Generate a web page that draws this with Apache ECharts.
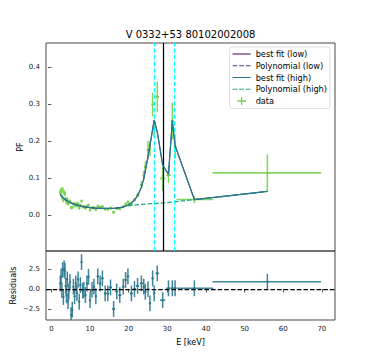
<!DOCTYPE html>
<html>
<head>
<meta charset="utf-8">
<script src="https://cdn.jsdelivr.net/npm/echarts@6/dist/echarts.min.js"></script>
<style>
  html, body { margin: 0; padding: 0; background: #fff; }
  #chart { width: 372px; height: 360px; }
</style>
</head>
<body>
<div id="chart"></div>
<script>
// ---- data ----
const energy = [2.3,2.5,2.7,2.9,3.1,3.3,3.5,3.7,3.9,4.1,4.3,4.5,
  4.8,5.1,5.4,5.7,6.0,6.3,6.6,6.9,7.2,7.5,7.8,8.1,8.4,
  8.8,9.2,9.6,10.0,10.5,11.0,11.5,12.0,
  12.6,13.2,13.9,14.6,15.3,16.1,16.9,17.7,18.6,19.2,19.8,20.7,21.5,22.3,
  23.3,23.9,24.3,25.0,25.5,26.2,26.6,27.4,28.8,30.3,31.3,32.0,37.0,55.9];
const energyErrLo = [0.1,0.1,0.1,0.1,0.1,0.1,0.1,0.1,0.1,0.1,0.1,0.1,
  0.15,0.15,0.15,0.15,0.15,0.15,0.15,0.15,0.15,0.15,0.15,0.15,0.15,
  0.2,0.2,0.2,0.25,0.25,0.25,0.25,0.25,
  0.3,0.3,0.35,0.35,0.4,0.4,0.4,0.4,0.3,0.3,0.35,0.4,0.4,0.45,
  0.4,0.25,0.3,0.3,0.25,0.25,0.25,0.45,0.7,0.6,0.4,0.35,4.6,14.2];
const energyErrHi = [0.1,0.1,0.1,0.1,0.1,0.1,0.1,0.1,0.1,0.1,0.1,0.1,
  0.15,0.15,0.15,0.15,0.15,0.15,0.15,0.15,0.15,0.15,0.15,0.15,0.15,
  0.2,0.2,0.2,0.25,0.25,0.25,0.25,0.25,
  0.3,0.3,0.35,0.35,0.4,0.4,0.4,0.4,0.3,0.3,0.35,0.4,0.4,0.45,
  0.4,0.25,0.3,0.3,0.25,0.25,0.25,0.45,0.7,0.6,0.4,0.35,4.9,13.9];
const pf = [0.061,0.066,0.050,0.068,0.041,0.061,0.057,0.043,0.035,0.043,0.031,0.035,
  0.038,0.020,0.021,0.031,0.025,0.031,0.025,0.031,0.019,0.027,0.038,0.022,0.023,
  0.019,0.024,0.027,0.014,0.020,0.020,0.015,0.024,
  0.021,0.023,0.016,0.016,0.019,0.008,0.018,0.017,0.023,0.029,0.035,0.030,0.041,0.054,
  0.082,0.108,0.129,0.176,0.180,0.299,0.232,0.320,0.099,0.108,0.254,0.185,0.042,0.114];
const pfErr = [0.008,0.008,0.008,0.008,0.006,0.006,0.006,0.006,0.006,0.005,0.005,0.005,
  0.004,0.004,0.004,0.004,0.004,0.004,0.004,0.004,0.004,0.004,0.004,0.004,0.004,
  0.004,0.004,0.004,0.004,0.004,0.004,0.004,0.004,
  0.004,0.004,0.004,0.004,0.004,0.004,0.004,0.004,0.004,0.005,0.005,0.005,0.005,0.006,
  0.010,0.012,0.016,0.025,0.020,0.032,0.020,0.041,0.034,0.022,0.050,0.032,0.009,0.050];
const bestFit = [0.055,0.053,0.051,0.049,0.047,0.045,0.043,0.041,0.040,0.038,0.037,0.036,
  0.034,0.033,0.031,0.030,0.029,0.028,0.027,0.026,0.025,0.025,0.024,0.023,0.023,
  0.022,0.021,0.021,0.020,0.020,0.019,0.019,0.018,
  0.018,0.018,0.018,0.018,0.018,0.018,0.019,0.020,0.022,0.024,0.027,0.033,0.041,0.052,
  0.075,0.098,0.120,0.158,0.188,0.232,0.257,0.225,0.135,0.110,0.255,0.188,0.042,0.064];
const residuals = [0.7,1.6,-0.1,2.4,-1.0,2.6,2.3,0.4,-0.8,1.2,-1.5,-0.3,
  0.9,-3.3,-2.6,0.3,-0.9,0.7,-0.5,1.2,-1.6,0.5,3.4,-0.2,-0.1,
  -0.75,0.7,1.55,-1.4,-0.1,0.3,-0.9,1.6,
  0.7,1.35,-0.55,-0.55,0.2,-2.5,-0.3,-0.76,0.3,1.15,1.6,-0.55,0.0,0.4,
  0.72,0.3,-0.33,0.0,-1.8,1.35,-0.55,1.98,-1.4,0.1,0.1,0.1,0.1,0.92];
const residualSigma = 1;
const polyLowEnergy = [2.3,3.3,4.5,6.0,8.1,10.5,13.2,16.1,18.6];
const polyLow = [0.055,0.045,0.036,0.029,0.023,0.020,0.018,0.018,0.022];
const polyHighEnergy = [19.8,22.3,25.0,28.0,32.0,37.0,45.0,55.9];
const polyHigh = [0.025,0.028,0.030,0.032,0.036,0.042,0.051,0.064];
const lineEnergies = [26.7, 31.7];
const centroidEnergy = 29.0;
const xTicks = [0,10,20,30,40,50,60,70];
const pfTicks = [0,0.1,0.2,0.3,0.4];
const residTicks = [-2.5,0,2.5];
const titleText = 'V 0332+53 80102002008';

// ---- build ----
const FONT = 'DejaVu Sans';
const C = { low:'#440154', polyLow:'#414487', high:'#2a788e', polyHigh:'#22a884', data:'#7ad151' };

const pairs = (xs, ys) => xs.map((x, i) => [x, ys[i]]);
const dataRows = energy.map((e, i) => [e, pf[i], e - energyErrLo[i], e + energyErrHi[i], pf[i] - pfErr[i], pf[i] + pfErr[i]]);
const residRows = energy.map((e, i) => [e, residuals[i], e - energyErrLo[i], e + energyErrHi[i], residuals[i] - residualSigma, residuals[i] + residualSigma]);

function errRender(color, lw, r, op) {
  return function (params, api) {
    const x = api.value(0), y = api.value(1);
    const p = api.coord([x, y]);
    const a = api.coord([api.value(2), y]), b = api.coord([api.value(3), y]);
    const c = api.coord([x, api.value(4)]), d = api.coord([x, api.value(5)]);
    return { type: 'group', children: [
      { type: 'line', shape: { x1: a[0], y1: p[1], x2: b[0], y2: p[1] }, style: { stroke: color, lineWidth: lw, opacity: op } },
      { type: 'line', shape: { x1: p[0], y1: c[1], x2: p[0], y2: d[1] }, style: { stroke: color, lineWidth: lw, opacity: op } },
      { type: 'circle', shape: { cx: p[0], cy: p[1], r: r }, style: { fill: color, opacity: op } }
    ]};
  };
}

const axisTxt = { fontFamily: FONT, fontSize: 7, color: '#222' };
// legend icons (18 x 8 boxes; tiny corner specks keep the full box extent)
const corners = 'M0,0 H0.01 V0.01 H0 Z M17.99,7.99 H18 V8 H17.99 Z ';
const solidIcon = 'path://' + corners + 'M0,3.4 H18 V4.6 H0 Z';
const dashIcon = 'path://' + corners + 'M0,3.4 H4.6 V4.6 H0 Z M6.6,3.4 H11.2 V4.6 H6.6 Z M13.2,3.4 H17.8 V4.6 H13.2 Z';
const plusIcon = 'path://' + corners + 'M8.35,0 H9.65 V8 H8.35 Z M4.6,3.35 H13.4 V4.65 H4.6 Z';

const option = {
  animation: false,
  backgroundColor: '#fff',
  title: { text: titleText, left: 190.5, textAlign: 'center', top: 29, padding: 0,
    textStyle: { fontFamily: FONT, fontSize: 10, fontWeight: 'normal', color: '#000' } },
  legend: {
    orient: 'vertical', right: 42, top: 47,
    data: [{ name: 'best fit (low)', icon: solidIcon }, { name: 'Polynomial (low)', icon: dashIcon },
           { name: 'best fit (high)', icon: solidIcon }, { name: 'Polynomial (high)', icon: dashIcon },
           { name: 'data', icon: plusIcon }],
    itemWidth: 18, itemHeight: 8, itemGap: 1.75,
    textStyle: { fontFamily: FONT, fontSize: 8.2, color: '#000', lineHeight: 10 },
    padding: [2, 3, 2.4, 3],
    borderColor: '#d5d5d5', borderWidth: 0.8, borderRadius: 2.5,
    backgroundColor: 'rgba(255,255,255,0.8)',
    selectedMode: false
  },
  grid: [
    { left: 46, top: 43, width: 289, height: 208, show: true, borderColor: '#333', borderWidth: 0.9, backgroundColor: 'transparent' },
    { left: 46, top: 251, width: 289, height: 69, show: true, borderColor: '#333', borderWidth: 0.9, backgroundColor: 'transparent' }
  ],
  xAxis: [
    { type: 'value', gridIndex: 0, min: -1.4, max: 73.4, axisLine: { show: false }, axisTick: { show: false },
      axisLabel: { show: false }, splitLine: { show: false } },
    { type: 'value', gridIndex: 1, min: -1.4, max: 73.4, axisLine: { show: false },
      axisTick: { show: true, length: 3.5, customValues: xTicks, lineStyle: { color: '#333', width: 0.8 } },
      axisLabel: { customValues: xTicks, margin: 5, ...axisTxt },
      splitLine: { show: false },
      name: 'E [keV]', nameLocation: 'middle', nameGap: 18, nameMoveOverlap: false,
      nameTextStyle: { fontFamily: FONT, fontSize: 8, color: '#000' } }
  ],
  yAxis: [
    { type: 'value', gridIndex: 0, min: -0.097, max: 0.465, axisLine: { show: false },
      axisTick: { show: true, length: 3.5, customValues: pfTicks, lineStyle: { color: '#333', width: 0.8 } },
      axisLabel: { customValues: pfTicks, margin: 6, formatter: v => v.toFixed(1), ...axisTxt },
      splitLine: { show: false },
      name: 'PF', nameLocation: 'middle', nameGap: 22, nameMoveOverlap: false,
      nameTextStyle: { fontFamily: FONT, fontSize: 8, color: '#000' } },
    { type: 'value', gridIndex: 1, min: -3.9, max: 4.8, axisLine: { show: false },
      axisTick: { show: true, length: 3.5, customValues: residTicks, lineStyle: { color: '#333', width: 0.8 } },
      axisLabel: { customValues: residTicks, margin: 6, ...axisTxt,
        formatter: v => (v < 0 ? '\u2212' + Math.abs(v).toFixed(1) : v.toFixed(1)) },
      splitLine: { show: false },
      name: 'Residuals', nameLocation: 'middle', nameGap: 28.5, nameMoveOverlap: false,
      nameTextStyle: { fontFamily: FONT, fontSize: 8, color: '#000' } }
  ],
  series: [
    { name: 'data', type: 'custom', xAxisIndex: 0, yAxisIndex: 0, z: 2, clip: true,
      itemStyle: { color: C.data },
      encode: { x: [0, 2, 3], y: [1, 4, 5] },
      renderItem: errRender(C.data, 1.6, 1.3, 0.9), data: dataRows },
    { name: 'best fit (low)', type: 'line', xAxisIndex: 0, yAxisIndex: 0, z: 3, symbol: 'none',
      lineStyle: { color: C.low, width: 0.8 }, itemStyle: { color: C.low },
      data: pairs(energy, bestFit),
      markLine: { silent: true, symbol: 'none', label: { show: false }, animation: false,
        data: [
          ...lineEnergies.map(e => ({ xAxis: e, lineStyle: { color: '#00ffff', type: [4.6, 2], width: 1.25 } })),
          { xAxis: centroidEnergy, lineStyle: { color: '#000', type: 'solid', width: 1.25 } }
        ] } },
    { name: 'Polynomial (low)', type: 'line', xAxisIndex: 0, yAxisIndex: 0, z: 3, symbol: 'none',
      lineStyle: { color: C.polyLow, width: 0.8, type: [4.6, 2] }, itemStyle: { color: C.polyLow },
      data: pairs(polyLowEnergy, polyLow) },
    { name: 'best fit (high)', type: 'line', xAxisIndex: 0, yAxisIndex: 0, z: 5, symbol: 'none',
      lineStyle: { color: C.high, width: 1.3 }, itemStyle: { color: C.high },
      data: pairs(energy, bestFit) },
    { name: 'Polynomial (high)', type: 'line', xAxisIndex: 0, yAxisIndex: 0, z: 4, symbol: 'none',
      lineStyle: { color: C.polyHigh, width: 1.25, type: [4.6, 2] }, itemStyle: { color: C.polyHigh },
      data: pairs(polyHighEnergy, polyHigh) },
    { name: 'residuals', type: 'custom', xAxisIndex: 1, yAxisIndex: 1, z: 2, clip: true,
      itemStyle: { color: C.high },
      encode: { x: [0, 2, 3], y: [1, 4, 5] },
      renderItem: errRender(C.high, 1.5, 1.2, 0.9), data: residRows,
      markLine: { silent: true, symbol: 'none', label: { show: false }, animation: false,
        lineStyle: { color: '#000', type: [4.6, 2], width: 1.25 },
        data: [{ yAxis: 0 }] } }
  ]
};

const chart = echarts.init(document.getElementById('chart'), null, { renderer: 'svg' });
chart.setOption(option);
</script>
</body>
</html>
